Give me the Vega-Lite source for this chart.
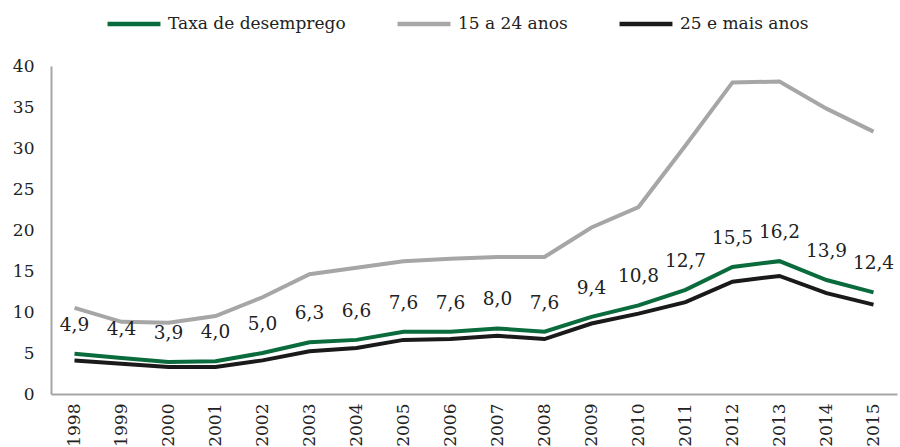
{
  "$schema": "https://vega.github.io/schema/vega-lite/v6.json",
  "width": 846,
  "height": 328,
  "autosize": {"type": "none"},
  "padding": {"left": 51, "top": 66, "right": 3, "bottom": 53},
  "background": "white",
  "config": {
    "locale": {"number": {"decimal": ",", "thousands": ".", "grouping": [3], "currency": ["", " €"]}},
    "view": {"stroke": null},
    "font": "DejaVu Serif",
    "axis": {"labelFont": "DejaVu Serif", "labelColor": "#222222", "grid": false, "ticks": false, "domainColor": "#a6a6a6", "domainWidth": 2, "title": null},
    "legend": {"labelFont": "DejaVu Serif"},
    "text": {"font": "DejaVu Serif"}
  },
  "data": {
    "values": [
      {"year": "1998", "series": "Taxa de desemprego", "value": 4.9},
      {"year": "1999", "series": "Taxa de desemprego", "value": 4.4},
      {"year": "2000", "series": "Taxa de desemprego", "value": 3.9},
      {"year": "2001", "series": "Taxa de desemprego", "value": 4.0},
      {"year": "2002", "series": "Taxa de desemprego", "value": 5.0},
      {"year": "2003", "series": "Taxa de desemprego", "value": 6.3},
      {"year": "2004", "series": "Taxa de desemprego", "value": 6.6},
      {"year": "2005", "series": "Taxa de desemprego", "value": 7.6},
      {"year": "2006", "series": "Taxa de desemprego", "value": 7.6},
      {"year": "2007", "series": "Taxa de desemprego", "value": 8.0},
      {"year": "2008", "series": "Taxa de desemprego", "value": 7.6},
      {"year": "2009", "series": "Taxa de desemprego", "value": 9.4},
      {"year": "2010", "series": "Taxa de desemprego", "value": 10.8},
      {"year": "2011", "series": "Taxa de desemprego", "value": 12.7},
      {"year": "2012", "series": "Taxa de desemprego", "value": 15.5},
      {"year": "2013", "series": "Taxa de desemprego", "value": 16.2},
      {"year": "2014", "series": "Taxa de desemprego", "value": 13.9},
      {"year": "2015", "series": "Taxa de desemprego", "value": 12.4},
      {"year": "1998", "series": "15 a 24 anos", "value": 10.5},
      {"year": "1999", "series": "15 a 24 anos", "value": 8.8},
      {"year": "2000", "series": "15 a 24 anos", "value": 8.7},
      {"year": "2001", "series": "15 a 24 anos", "value": 9.5},
      {"year": "2002", "series": "15 a 24 anos", "value": 11.8},
      {"year": "2003", "series": "15 a 24 anos", "value": 14.6},
      {"year": "2004", "series": "15 a 24 anos", "value": 15.4},
      {"year": "2005", "series": "15 a 24 anos", "value": 16.2},
      {"year": "2006", "series": "15 a 24 anos", "value": 16.5},
      {"year": "2007", "series": "15 a 24 anos", "value": 16.7},
      {"year": "2008", "series": "15 a 24 anos", "value": 16.7},
      {"year": "2009", "series": "15 a 24 anos", "value": 20.3},
      {"year": "2010", "series": "15 a 24 anos", "value": 22.8},
      {"year": "2011", "series": "15 a 24 anos", "value": 30.3},
      {"year": "2012", "series": "15 a 24 anos", "value": 38.0},
      {"year": "2013", "series": "15 a 24 anos", "value": 38.1},
      {"year": "2014", "series": "15 a 24 anos", "value": 34.8},
      {"year": "2015", "series": "15 a 24 anos", "value": 32.0},
      {"year": "1998", "series": "25 e mais anos", "value": 4.1},
      {"year": "1999", "series": "25 e mais anos", "value": 3.7},
      {"year": "2000", "series": "25 e mais anos", "value": 3.3},
      {"year": "2001", "series": "25 e mais anos", "value": 3.3},
      {"year": "2002", "series": "25 e mais anos", "value": 4.1},
      {"year": "2003", "series": "25 e mais anos", "value": 5.2},
      {"year": "2004", "series": "25 e mais anos", "value": 5.6},
      {"year": "2005", "series": "25 e mais anos", "value": 6.6},
      {"year": "2006", "series": "25 e mais anos", "value": 6.7},
      {"year": "2007", "series": "25 e mais anos", "value": 7.1},
      {"year": "2008", "series": "25 e mais anos", "value": 6.7},
      {"year": "2009", "series": "25 e mais anos", "value": 8.6},
      {"year": "2010", "series": "25 e mais anos", "value": 9.8},
      {"year": "2011", "series": "25 e mais anos", "value": 11.2},
      {"year": "2012", "series": "25 e mais anos", "value": 13.7},
      {"year": "2013", "series": "25 e mais anos", "value": 14.4},
      {"year": "2014", "series": "25 e mais anos", "value": 12.3},
      {"year": "2015", "series": "25 e mais anos", "value": 10.9}
    ]
  },
  "encoding": {
    "x": {
      "field": "year", "type": "ordinal",
      "scale": {"type": "point", "padding": 0.5},
      "axis": {"labelAngle": -90, "labelFontSize": 17, "labelPadding": 9}
    },
    "y": {
      "field": "value", "type": "quantitative",
      "scale": {"domain": [0, 40], "nice": false},
      "axis": {"values": [0, 5, 10, 15, 20, 25, 30, 35, 40], "labelFontSize": 17, "labelPadding": 17}
    }
  },
  "layer": [
    {
      "mark": {"type": "line", "strokeWidth": 4},
      "encoding": {
        "color": {
          "field": "series", "type": "nominal",
          "scale": {"domain": ["Taxa de desemprego", "15 a 24 anos", "25 e mais anos"], "range": ["#0a6b3d", "#a6a6a6", "#1a1a1a"]},
          "sort": ["Taxa de desemprego", "15 a 24 anos", "25 e mais anos"],
          "legend": {
            "title": null, "orient": "none", "direction": "horizontal", "columns": 3,
            "legendX": 54, "legendY": -71,
            "symbolType": "stroke", "symbolSize": 2800, "symbolStrokeWidth": 4.5,
            "labelFontSize": 17, "labelColor": "#222222",
            "labelOffset": 5, "columnPadding": 42, "labelLimit": 400
          }
        },
        "order": {"field": "series", "sort": "descending"}
      }
    },
    {
      "transform": [{"filter": "datum.series === 'Taxa de desemprego'"}],
      "mark": {"type": "text", "dy": -29, "baseline": "middle", "align": "center", "fontSize": 18.5, "color": "#222222"},
      "encoding": {
        "text": {"field": "value", "type": "quantitative", "format": ".1f"}
      }
    }
  ]
}
